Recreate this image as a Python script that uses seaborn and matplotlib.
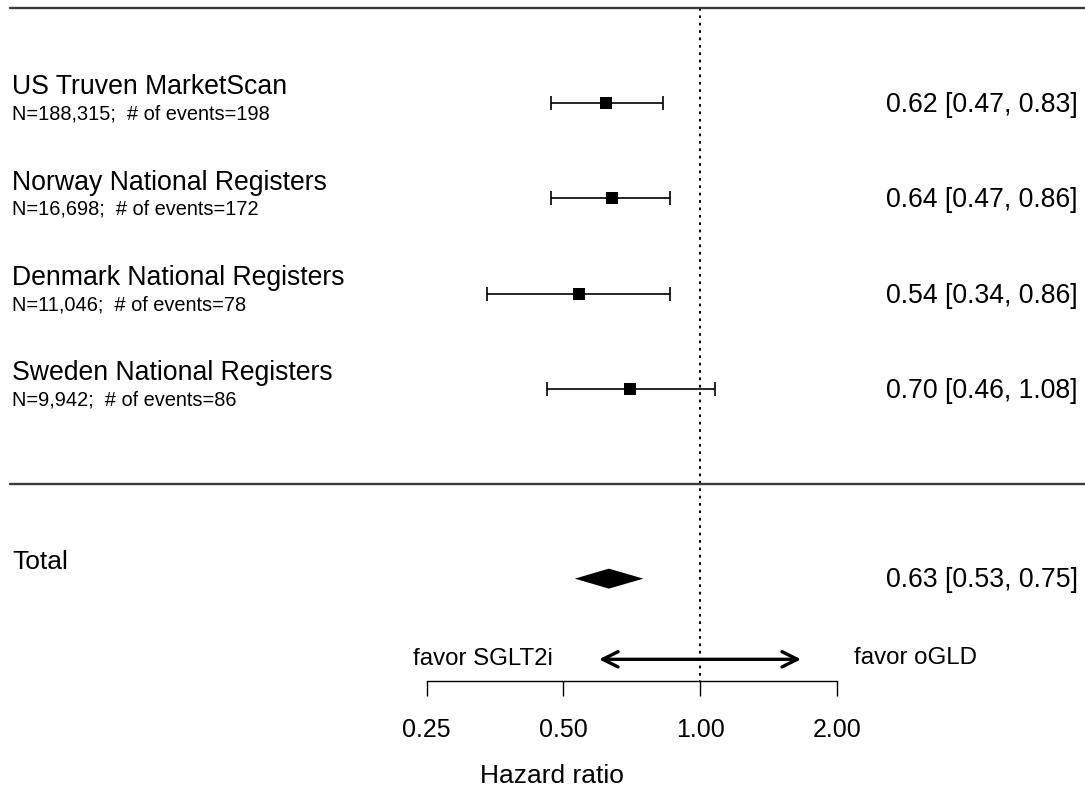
import numpy as np
import pandas as pd
import matplotlib
matplotlib.use("Agg")
import matplotlib.pyplot as plt
import matplotlib.transforms as mtransforms
import seaborn as sns

# ---------------- data ----------------
studies = ["US Truven MarketScan", "Norway National Registers",
           "Denmark National Registers", "Sweden National Registers"]
details = ["N=188,315;  # of events=198", "N=16,698;  # of events=172",
           "N=11,046;  # of events=78", "N=9,942;  # of events=86"]
hr = [0.62, 0.64, 0.54, 0.70]
ci_low = [0.47, 0.47, 0.34, 0.46]
ci_high = [0.83, 0.86, 0.86, 1.08]
total_label = "Total"
total_hr = 0.63
total_low = 0.53
total_high = 0.75
tick_values = [0.25, 0.50, 1.00, 2.00]
tick_labels = ["0.25", "0.50", "1.00", "2.00"]
left_note = "favor SGLT2i"
right_note = "favor oGLD"
x_label = "Hazard ratio"

# ---------------- style ----------------
sns.set_theme(style="white")
plt.rcParams["font.family"] = ["Liberation Sans", "DejaVu Sans"]

W, H = 1085, 787
fig = plt.figure(figsize=(W / 100, H / 100), dpi=100)
ax = fig.add_axes([0, 0, 1, 1])
ax.set_xscale("log", base=2)
PX = 136.7  # pixels per doubling
ax.set_xlim(2 ** (-2 - 426.7 / PX), 2 ** (1 + (W - 836.7) / PX))
ax.set_ylim(H, 0)  # vertical layout in pixel-like units

ROW0, STEP = 103, 95.33
ypos = [ROW0 + STEP * i for i in range(len(studies))]
y_sep = ROW0 + STEP * 4
y_total = ROW0 + STEP * 5 - 1
y_top = 8
y_axis = 680.5
y_arrow = 659.3

df = pd.DataFrame({"hr": hr, "lo": ci_low, "hi": ci_high, "y": ypos})

# confidence intervals
ax.errorbar(df["hr"], df["y"], xerr=[df["hr"] - df["lo"], df["hi"] - df["hr"]],
            fmt="none", ecolor="black", elinewidth=1.2, capsize=5, capthick=1.2,
            zorder=2)
# point estimates
sns.scatterplot(data=df, x="hr", y="y", marker="s", s=78, color="black",
                linewidth=0, ax=ax, zorder=3, legend=False)

# summary diamond
ax.fill([total_low, total_hr, total_high, total_hr],
        [y_total, y_total - 10, y_total, y_total + 10],
        color="black", lw=0, zorder=3)

# reference line at HR = 1
ax.vlines(1.0, y_top, y_axis, colors="black", linestyles=(0, (1.4, 2.4)),
          lw=1.4, zorder=1)

# horizontal rules
ax.axhline(y_top, xmin=10 / W, xmax=1, color="#3a3a3a", lw=1.7)
ax.axhline(y_sep, xmin=10 / W, xmax=1, color="#3a3a3a", lw=1.7)

blend = mtransforms.blended_transform_factory(ax.transAxes, ax.transData)

# left labels
for name, det, y in zip(studies, details, ypos):
    ax.text(12 / W, y - 8.5, name, transform=blend, fontsize=19.2,
            ha="left", va="baseline", color="black")
    ax.text(12 / W, y + 16.5, det, transform=blend, fontsize=14.4,
            ha="left", va="baseline", color="black")
ax.text(12 / W, y_total - 9.5, total_label, transform=blend, fontsize=19.0,
        ha="left", va="baseline", color="black")

# right-hand estimates
for h, lo, hi, y in zip(hr, ci_low, ci_high, ypos):
    ax.text(1078 / W, y + 9, f"{h:.2f} [{lo:.2f}, {hi:.2f}]", transform=blend,
            fontsize=19.2, ha="right", va="baseline", color="black")
ax.text(1078 / W, y_total + 8, f"{total_hr:.2f} [{total_low:.2f}, {total_high:.2f}]",
        transform=blend, fontsize=19.2, ha="right", va="baseline", color="black")

# direction arrow and notes
ax.annotate("", xy=(2 ** (101 / PX), y_arrow), xytext=(2 ** (-101 / PX), y_arrow),
            arrowprops=dict(arrowstyle="<->,head_length=1.1,head_width=0.55",
                            lw=2.4, color="black", shrinkA=0, shrinkB=0,
                            mutation_scale=10))
ax.text(483.3 / W, 665, left_note, transform=blend, fontsize=17.3,
        ha="center", va="baseline", color="black")
ax.text(915.8 / W, 664.5, right_note, transform=blend, fontsize=17.3,
        ha="center", va="baseline", color="black")

# x axis
for side in ["top", "left", "right"]:
    ax.spines[side].set_visible(False)
ax.spines["bottom"].set_position(("data", y_axis))
ax.spines["bottom"].set_bounds(tick_values[0], tick_values[-1])
ax.spines["bottom"].set_color("black")
ax.spines["bottom"].set_linewidth(1.0)
ax.set_xticks(tick_values)
ax.set_xticklabels(tick_labels)
ax.xaxis.set_minor_locator(matplotlib.ticker.NullLocator())
ax.tick_params(axis="x", which="major", direction="out", length=10.8, width=1.0,
               color="black", pad=16.0, labelsize=18, labelcolor="black",
               bottom=True)
ax.set_yticks([])
ax.set_xlabel("")
ax.set_ylabel("")
ax.grid(False)
ax.text(552 / W, 783, x_label, transform=blend, fontsize=19.0,
        ha="center", va="baseline", color="black")

fig.savefig("out.png", dpi=100, facecolor="white")
